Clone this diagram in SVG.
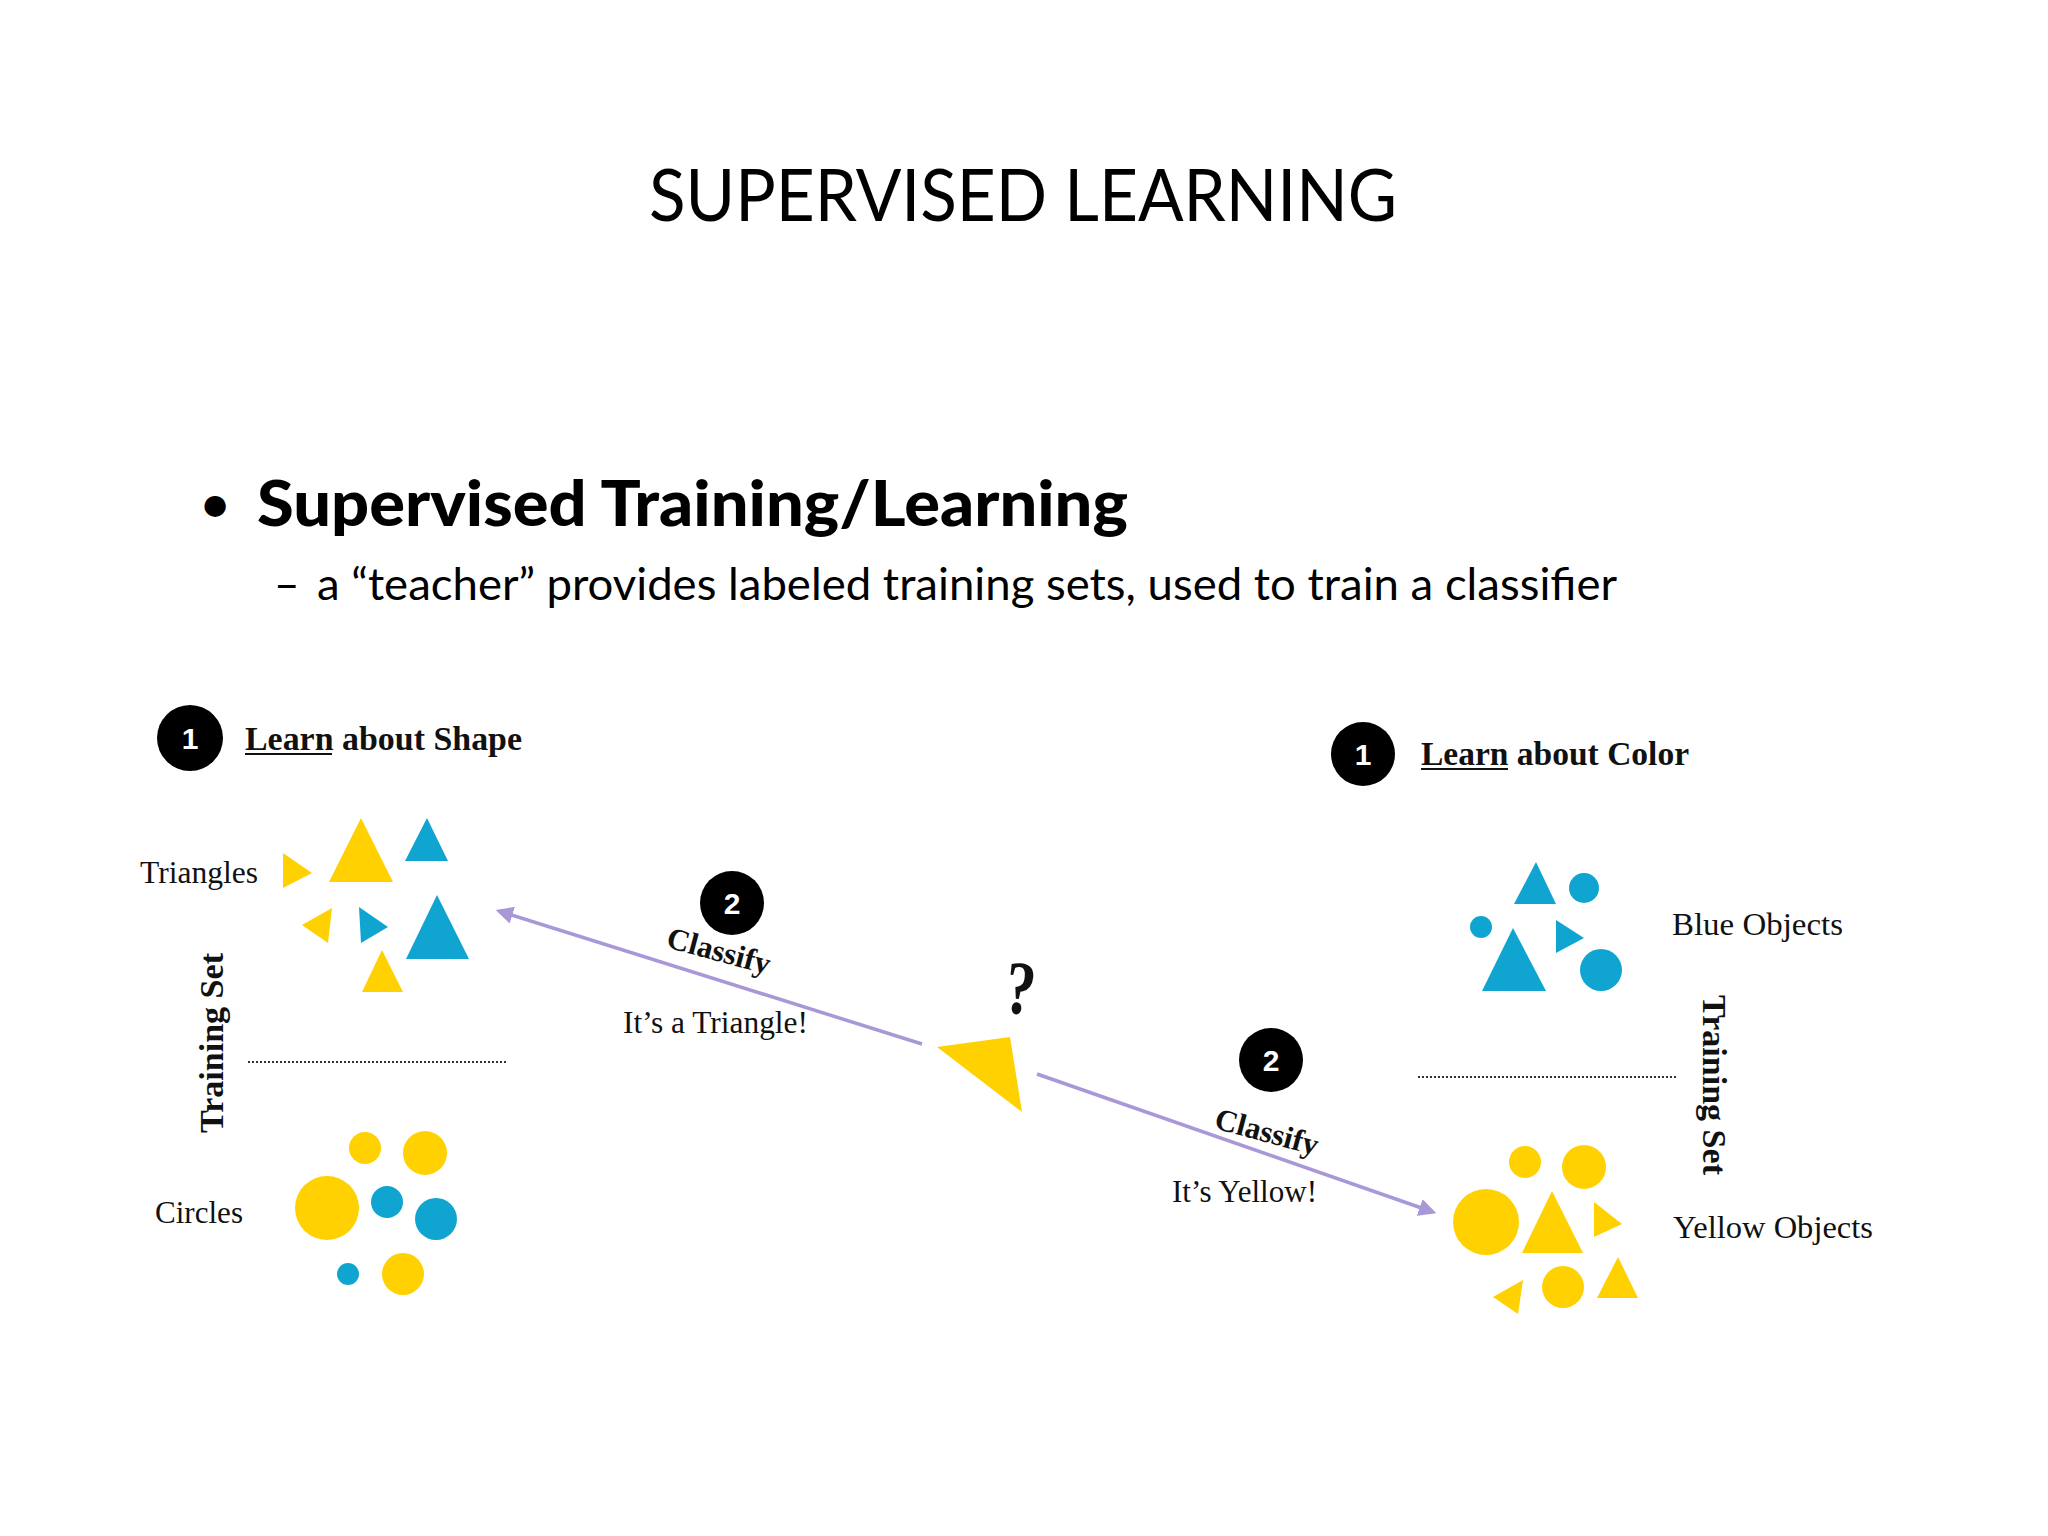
<svg xmlns="http://www.w3.org/2000/svg" width="2048" height="1536" viewBox="0 0 2048 1536">
<style>
.title{font-family:Lato,"Open Sans",sans-serif;font-size:71px;fill:#000}
.head{font-family:Lato,"Open Sans",sans-serif;font-weight:900;font-size:62px;fill:#000}
.sub{font-family:Lato,"Open Sans",sans-serif;font-size:44px;fill:#000}
.lbl{font-family:"Liberation Serif",serif;font-size:31px;fill:#111}
.blbl{font-family:"Liberation Serif",serif;font-weight:bold;font-size:33px;fill:#111}
.num{font-family:"Liberation Sans",Arial,sans-serif;font-weight:bold;font-size:30px;fill:#fff;text-anchor:middle}
.y{fill:#FFD100}
.b{fill:#10A5D0}
.dot{stroke:#333;stroke-width:2;stroke-dasharray:2 2}
.arrow{stroke:#A898D8;stroke-width:3.5;fill:none}
.ul{stroke:#111;stroke-width:2}
</style>
<defs>
<marker id="ah" viewBox="0 0 10 10" refX="8" refY="5" markerWidth="5" markerHeight="5" orient="auto" markerUnits="strokeWidth">
<path d="M0,0 L10,5 L0,10 Z" fill="#A898D8"/>
</marker>
</defs>
<rect width="2048" height="1536" fill="#fff"/>

<text class="title" x="649" y="221" textLength="748" lengthAdjust="spacingAndGlyphs">SUPERVISED LEARNING</text>

<g id="bullet">
<text class="head" x="215" y="520" text-anchor="middle" style="font-size:46px">•</text>
<text class="head" x="257" y="526" textLength="871" lengthAdjust="spacingAndGlyphs">Supervised Training/Learning</text>
<text class="sub" x="274" y="600">–</text>
<text class="sub" x="317" y="600" textLength="1300" lengthAdjust="spacingAndGlyphs">a “teacher” provides labeled training sets, used to train a classifier</text>
</g>

<g id="connectors">
<line class="arrow" x1="922" y1="1044" x2="499" y2="911" marker-end="url(#ah)"/>
<line class="arrow" x1="1037" y1="1074" x2="1433" y2="1212" marker-end="url(#ah)"/>
</g>

<g id="step1-shape">
<circle cx="190" cy="738" r="33" fill="#000"/>
<text class="num" x="190" y="749">1</text>
<text class="blbl" x="245" y="750" style="font-size:34px" textLength="277" lengthAdjust="spacingAndGlyphs">Learn about Shape</text>
<line class="ul" x1="245" y1="754" x2="332" y2="754"/>
</g>

<g id="triangles">
<text class="lbl" x="140" y="883" textLength="118" lengthAdjust="spacingAndGlyphs">Triangles</text>
<polygon class="y" points="283,853 312,873 283,888"/>
<polygon class="y" points="361,818 393,882 329,882"/>
<polygon class="b" points="427,818 448,861 405,861"/>
<polygon class="y" points="332,908 302,925 328,943"/>
<polygon class="b" points="359,907 388,927 361,943"/>
<polygon class="b" points="437,895 469,959 406,959"/>
<polygon class="y" points="382,950 403,992 362,992"/>
</g>

<g id="training-set-left">
<text class="blbl" transform="translate(223,1133) rotate(-90)" textLength="180" lengthAdjust="spacingAndGlyphs">Training Set</text>
<line class="dot" x1="248" y1="1062" x2="507" y2="1062"/>
</g>

<g id="circles">
<text class="lbl" x="155" y="1223" textLength="88" lengthAdjust="spacingAndGlyphs">Circles</text>
<circle class="y" cx="365" cy="1148" r="16"/>
<circle class="y" cx="425" cy="1153" r="22"/>
<circle class="y" cx="327" cy="1208" r="32"/>
<circle class="b" cx="387" cy="1202" r="16"/>
<circle class="b" cx="436" cy="1219" r="21"/>
<circle class="b" cx="348" cy="1274" r="11"/>
<circle class="y" cx="403" cy="1274" r="21"/>
</g>

<g id="classify-shape">
<circle cx="732" cy="903" r="32" fill="#000"/>
<text class="num" x="732" y="914">2</text>
<text class="blbl" style="font-size:31px" transform="translate(665,947) rotate(15)" textLength="106" lengthAdjust="spacingAndGlyphs">Classify</text>
<text class="lbl" x="623" y="1033" textLength="185" lengthAdjust="spacingAndGlyphs">It’s a Triangle!</text>
</g>

<g id="unknown">
<text class="blbl" style="font-size:76px" transform="translate(1003,1012) rotate(6)" textLength="30" lengthAdjust="spacingAndGlyphs">?</text>
<polygon class="y" points="937,1047 1010,1037 1022,1112"/>
</g>

<g id="classify-color">
<circle cx="1271" cy="1060" r="32" fill="#000"/>
<text class="num" x="1271" y="1071">2</text>
<text class="blbl" style="font-size:31px" transform="translate(1213,1128) rotate(15)" textLength="106" lengthAdjust="spacingAndGlyphs">Classify</text>
<text class="lbl" x="1172" y="1202" textLength="145" lengthAdjust="spacingAndGlyphs">It’s Yellow!</text>
</g>

<g id="step1-color">
<circle cx="1363" cy="754" r="32" fill="#000"/>
<text class="num" x="1363" y="765">1</text>
<text class="blbl" x="1421" y="765" textLength="268" lengthAdjust="spacingAndGlyphs">Learn about Color</text>
<line class="ul" x1="1421" y1="769" x2="1508" y2="769"/>
</g>

<g id="blue-objects">
<polygon class="b" points="1536,862 1556,904 1514,904"/>
<circle class="b" cx="1584" cy="888" r="15"/>
<circle class="b" cx="1481" cy="927" r="11"/>
<polygon class="b" points="1513,928 1546,991 1482,991"/>
<polygon class="b" points="1556,920 1584,938 1556,953"/>
<ellipse class="b" cx="1601" cy="970" rx="21" ry="21"/>
<text class="lbl" x="1672" y="935" textLength="171" lengthAdjust="spacingAndGlyphs">Blue Objects</text>
</g>

<g id="training-set-right">
<text class="blbl" transform="translate(1703,995) rotate(90)" textLength="180" lengthAdjust="spacingAndGlyphs">Training Set</text>
<line class="dot" x1="1418" y1="1077" x2="1677" y2="1077"/>
</g>

<g id="yellow-objects">
<circle class="y" cx="1525" cy="1162" r="16"/>
<circle class="y" cx="1584" cy="1167" r="22"/>
<circle class="y" cx="1486" cy="1222" r="33"/>
<polygon class="y" points="1552,1191 1583,1253 1522,1253"/>
<polygon class="y" points="1594,1202 1622,1224 1594,1237"/>
<polygon class="y" points="1523,1280 1493,1297 1518,1314"/>
<circle class="y" cx="1563" cy="1287" r="21"/>
<polygon class="y" points="1618,1257 1638,1298 1597,1298"/>
<text class="lbl" x="1673" y="1238" textLength="200" lengthAdjust="spacingAndGlyphs">Yellow Objects</text>
</g>
</svg>
